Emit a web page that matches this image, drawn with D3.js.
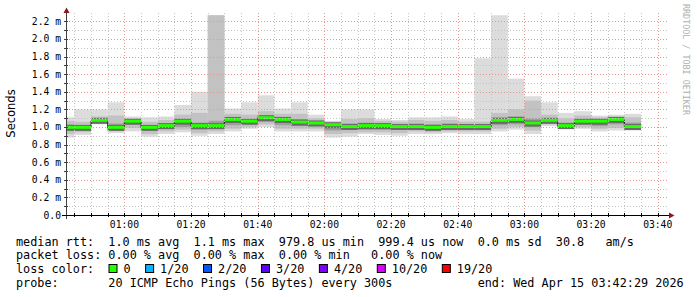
<!DOCTYPE html>
<meta charset="utf-8">
<html>
<head>
<style>

body {
  margin: 0;
  background: #fff;
}

text {
  font-family: "DejaVu Sans Mono", monospace;
}

.grid-minor {
  stroke: #c4c4c4;
  stroke-dasharray: 1,2;
  shape-rendering: crispEdges;
}

.grid-major {
  stroke: #e79494;
  stroke-dasharray: 1,2;
  shape-rendering: crispEdges;
}

.tick-label {
  font-size: 9.7px;
  fill: #000;
}

.legend text {
  font-size: 11.8px;
  fill: #000;
  white-space: pre;
}

</style>
<script src="https://d3js.org/d3.v7.min.js"></script>
</head>
<body>
<svg width="697" height="297"></svg>
<script>

// 5 minute rrd steps, first one starts 00:40 (partly before the graph start)
var slotCount = 35;

// smoke: lowest ping, 10th/25th pct, median, 75th/90th pct, highest ping (ms)
var pingMin = [0.88,0.91,1.03,0.93,0.95,0.89,0.92,0.94,0.90,0.92,0.95,0.98,1.00,0.95,0.95,0.95,0.88,0.89,
               0.92,0.91,0.90,0.92,0.92,0.93,0.92,0.92,0.95,0.97,0.92,1.01,0.98,0.98,0.95,0.96,0.96];
var ping10 = [0.92,0.94,1.04,0.95,0.99,0.92,0.95,0.97,0.93,0.95,0.98,1.00,1.03,0.98,0.98,0.98,0.92,0.93,
              0.94,0.94,0.93,0.95,0.94,0.95,0.95,0.95,0.98,1.00,0.96,1.03,0.99,1.00,0.98,0.99,0.97];
var ping25 = [0.96,0.97,1.05,0.97,1.03,0.96,0.98,1.00,0.97,0.98,1.02,1.03,1.06,1.02,1.01,1.01,0.96,0.97,
              0.97,0.97,0.97,0.97,0.97,0.98,0.97,0.97,1.02,1.03,1.00,1.05,1.00,1.03,1.01,1.03,0.98];
var median = [0.99,0.99,1.07,0.99,1.06,0.99,1.01,1.06,1.01,1.01,1.08,1.06,1.10,1.08,1.05,1.04,1.02,1.00,
              1.01,1.01,1.00,1.00,0.99,1.00,1.00,1.00,1.07,1.08,1.04,1.07,1.01,1.06,1.06,1.08,1.00];
var ping75 = [1.03,1.02,1.09,1.04,1.08,1.02,1.04,1.09,1.05,1.07,1.11,1.09,1.13,1.11,1.09,1.07,1.04,1.04,
              1.05,1.04,1.03,1.04,1.03,1.04,1.03,1.03,1.11,1.12,1.10,1.10,1.05,1.09,1.08,1.10,1.05];
var ping90 = [1.07,1.06,1.12,1.13,1.10,1.06,1.08,1.14,1.16,2.27,1.15,1.14,1.18,1.15,1.15,1.10,1.06,1.09,
              1.10,1.07,1.06,1.08,1.07,1.08,1.06,1.06,1.16,1.20,1.30,1.14,1.10,1.13,1.11,1.12,1.11];
var pingMax = [1.11,1.20,1.20,1.28,1.12,1.11,1.12,1.25,1.40,2.27,1.21,1.28,1.36,1.21,1.28,1.14,1.07,1.20,
               1.20,1.09,1.08,1.11,1.11,1.12,1.09,1.78,2.27,1.55,1.35,1.28,1.16,1.18,1.13,1.14,1.15];

var yTicks = [0.0,0.2,0.4,0.6,0.8,1.0,1.2,1.4,1.6,1.8,2.0,2.2];
var yTickLabels = ["0.0","0.2 m","0.4 m","0.6 m","0.8 m","1.0 m","1.2 m","1.4 m","1.6 m","1.8 m","2.0 m","2.2 m"];
var xTickLabels = ["01:00","01:20","01:40","02:00","02:20","02:40","03:00","03:20","03:40"];

var lossLabels = ["0","1/20","2/20","3/20","4/20","10/20","19/20"];
var lossColors = ["#26ff00","#00b8ff","#0059ff","#5e00ff","#7e00ff","#dd00ff","#ff0000"];

var legendLines = [
  "median rtt:  1.0 ms avg  1.1 ms max  979.8 us min  999.4 us now  0.0 ms sd  30.8   am/s",
  "packet loss: 0.00 % avg  0.00 % max  0.00 % min   0.00 % now",
  "loss color:",
  "probe:       20 ICMP Echo Pings (56 Bytes) every 300s            end: Wed Apr 15 03:42:29 2026"
];

var svg = d3.select("svg");

var pLeft = 66, pRight = 666, pTop = 15, pBottom = 215;
var tStart = new Date(2026, 3, 15, 0, 42, 29),
    tEnd = new Date(2026, 3, 15, 3, 42, 29);

var x = d3.scaleTime().domain([tStart, tEnd]).range([pLeft, pRight]);
var y = d3.scaleLinear().domain([0, 2.2727]).range([pBottom, pTop]);

var slots = d3.range(slotCount).map(function(i) {
  var s = new Date(2026, 3, 15, 0, 40 + 5 * i);
  return {
    start: s, end: d3.timeMinute.offset(s, 5),
    min: pingMin[i], p10: ping10[i], p25: ping25[i], med: median[i],
    p75: ping75[i], p90: ping90[i], max: pingMax[i]
  };
});

svg.append("rect").attr("width", 697).attr("height", 297).attr("fill", "#fff");

svg.append("clipPath").attr("id", "plot")
  .append("rect").attr("x", pLeft).attr("y", pTop).attr("width", pRight - pLeft).attr("height", pBottom - pTop);

var plot = svg.append("g").attr("clip-path", "url(#plot)");

// smoke, outer bands lighter
var bands = [["min", "max", "#dcdcdc"], ["p10", "p90", "#c2c2c2"], ["p25", "p75", "#9e9e9e"]];
bands.forEach(function(b) {
  plot.selectAll(null)
    .data(slots)
    .enter().append("rect")
      .attr("x", function(d) { return x(d.start); })
      .attr("width", function(d) { return x(d.end) - x(d.start); })
      .attr("y", function(d) { return y(d[b[1]]); })
      .attr("height", function(d) { return y(d[b[0]]) - y(d[b[1]]); })
      .attr("fill", b[2]);
});

// dark pings right around the median
plot.selectAll(null)
  .data(slots)
  .enter().append("rect")
    .attr("x", function(d) { return x(d.start); })
    .attr("width", function(d) { return x(d.end) - x(d.start); })
    .attr("y", function(d) { return y(d.med) - 3; })
    .attr("height", 6)
    .attr("fill", "#6a6a6a");

// grid
var g = svg.append("g");
d3.range(1, 23).forEach(function(i) {
  g.append("line")
    .attr("class", i % 2 ? "grid-minor" : "grid-major")
    .attr("x1", pLeft).attr("x2", pRight + 2)
    .attr("y1", Math.round(y(i / 10)) + 0.5).attr("y2", Math.round(y(i / 10)) + 0.5);
});
d3.timeMinute.every(5).range(tStart, tEnd).forEach(function(t) {
  g.append("line")
    .attr("class", t.getMinutes() % 20 ? "grid-minor" : "grid-major")
    .attr("x1", Math.round(x(t)) + 0.5).attr("x2", Math.round(x(t)) + 0.5)
    .attr("y1", pTop - 2).attr("y2", pBottom);
});

// median: step line plus loss coloured band
var step = d3.line()
  .x(function(d) { return d[0]; })
  .y(function(d) { return d[1]; });
var pts = [];
slots.forEach(function(d) {
  pts.push([x(d.start), y(d.med)]);
  pts.push([x(d.end), y(d.med)]);
});
plot.append("path")
  .attr("d", step(pts))
  .attr("fill", "none")
  .attr("stroke", "#202020")
  .attr("stroke-width", 1);

plot.selectAll(null)
  .data(slots)
  .enter().append("rect")
    .attr("x", function(d) { return x(d.start); })
    .attr("width", function(d) { return x(d.end) - x(d.start); })
    .attr("y", function(d) { return y(d.med) - 2; })
    .attr("height", 3)
    .attr("fill", lossColors[0]);

// axes
var axisG = svg.append("g");
axisG.append("line").attr("x1", pLeft + 0.5).attr("x2", pLeft + 0.5).attr("y1", pBottom + 4).attr("y2", 11)
  .attr("stroke", "#404040");
axisG.append("line").attr("x1", pLeft - 4).attr("x2", 670).attr("y1", pBottom + 0.5).attr("y2", pBottom + 0.5)
  .attr("stroke", "#000");
axisG.append("path").attr("d", "M63.5,13L69.5,13L66.5,7.5Z").attr("fill", "#8b1a1a");
axisG.append("path").attr("d", "M669,212.5L669,218.5L674.5,215.5Z").attr("fill", "#8b1a1a");

d3.range(1, 23).forEach(function(i) {
  axisG.append("line")
    .attr("x1", pLeft - 2).attr("x2", pLeft + 2)
    .attr("y1", Math.round(y(i / 10)) + 0.5).attr("y2", Math.round(y(i / 10)) + 0.5)
    .attr("stroke", "#404040");
});
d3.timeMinute.every(5).range(tStart, tEnd).forEach(function(t) {
  axisG.append("line")
    .attr("x1", Math.round(x(t)) + 0.5).attr("x2", Math.round(x(t)) + 0.5)
    .attr("y1", pBottom - 2).attr("y2", pBottom + 2)
    .attr("stroke", "#000");
});

svg.selectAll(".ylab")
  .data(yTicks)
  .enter().append("text")
    .attr("class", "tick-label")
    .attr("x", 61)
    .attr("y", function(d) { return y(d) + 3.5; })
    .attr("text-anchor", "end")
    .text(function(d, i) { return yTickLabels[i]; });

var parseHM = d3.timeParse("%Y-%m-%d %H:%M");
svg.selectAll(".xlab")
  .data(xTickLabels)
  .enter().append("text")
    .attr("class", "tick-label")
    .attr("x", function(d) { return x(parseHM("2026-04-15 " + d)); })
    .attr("y", 228)
    .attr("text-anchor", "middle")
    .text(function(d) { return d; });

svg.append("text")
  .attr("transform", "translate(15,113.5) rotate(-90)")
  .attr("text-anchor", "middle")
  .style("font-family", "'DejaVu Sans', sans-serif")
  .style("font-size", "11.5px")
  .text("Seconds");

svg.append("text")
  .attr("transform", "translate(683,4) rotate(90)")
  .style("font-size", "8.4px")
  .attr("fill", "#b0b0b0")
  .text("RRDTOOL / TOBI OETIKER");

// legend
var legend = svg.append("g").attr("class", "legend");
var lineY = [245.5, 259.2, 272.9, 286.6];
legendLines.forEach(function(l, i) {
  legend.append("text").attr("x", 16).attr("y", lineY[i]).text(l);
});

var bx = 108.5;
lossLabels.forEach(function(l, i) {
  legend.append("rect")
    .attr("x", bx + 0.5).attr("y", 264.5)
    .attr("width", 8).attr("height", 8)
    .attr("fill", lossColors[i])
    .attr("stroke", "#000");
  var t = legend.append("text").attr("x", bx + 15).attr("y", lineY[2]).text(l);
  bx = bx + 15 + t.node().getComputedTextLength() + 14.5;
});

</script>
</body>
</html>
